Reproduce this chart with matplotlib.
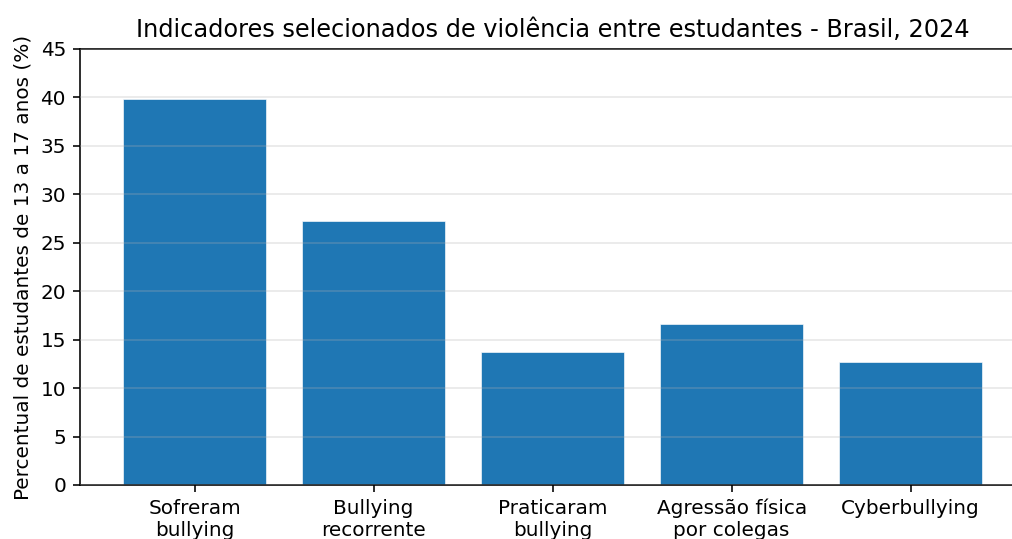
import matplotlib

matplotlib.use("Agg")

from matplotlib import pyplot as plt

plt.rcParams["font.family"] = ["DejaVu Sans"]

categorias = [
    "Sofreram\nbullying",
    "Bullying\nrecorrente",
    "Praticaram\nbullying",
    "Agressão física\npor colegas",
    "Cyberbullying",
]
percentuais = [39.8, 27.2, 13.7, 16.6, 12.7]
yticks = [0, 5, 10, 15, 20, 25, 30, 35, 40, 45]

titulo = "Indicadores selecionados de violência entre estudantes - Brasil, 2024"
ylabel = "Percentual de estudantes de 13 a 17 anos (%)"

DPI = 144
fig = plt.figure(figsize=(1012 / DPI, 539 / DPI), dpi=DPI)
fig.set_facecolor("w")
ax = fig.add_axes([0.0791, 0.1002, 0.934, 0.8089])

ax.bar(
    range(len(categorias)),
    percentuais,
    width=0.8,
    color="#1f77b4",
    edgecolor="white",
    linewidth=0.3,
)

ax.set_xlim(-0.64, 4.64)
ax.set_ylim(0, 45)
ax.set_yticks(yticks)
ax.set_xticks(range(len(categorias)))
ax.set_xticklabels(categorias)

ax.grid(axis="y", color="#b0b0b0", alpha=0.3, linewidth=0.8)
ax.set_axisbelow(False)

ax.tick_params(axis="both", labelsize=10)
ax.spines["right"].set_visible(False)

ax.set_title(titulo, fontsize=12)
ax.set_ylabel(ylabel, fontsize=10)

fig.savefig("out.png", dpi=DPI)
plt.close(fig)
